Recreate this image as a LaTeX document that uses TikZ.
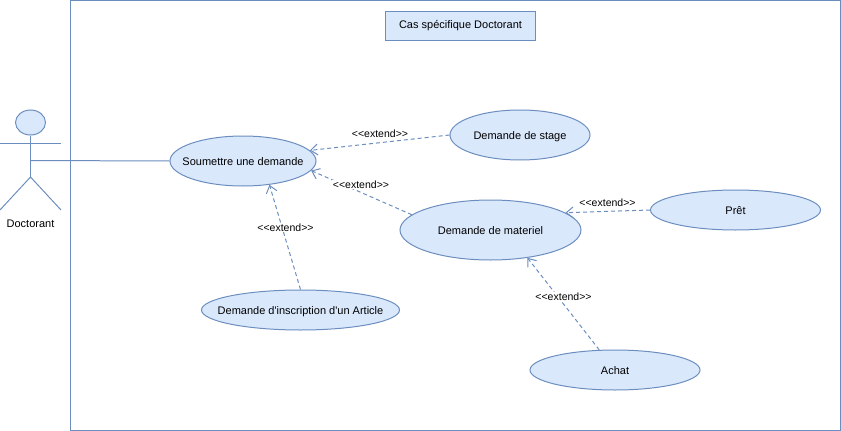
\documentclass[tikz,border=0pt]{standalone}
\usepackage{fontspec}
\setmainfont{Liberation Sans}
\usetikzlibrary{shapes.geometric,arrows.meta}

\tikzset{
    usecase/.style={ellipse,draw=edgeblue,fill=fillblue,line width=1pt,inner xsep=-25pt,inner ysep=-4pt,text height=9.5pt,text depth=0pt,font=\fontsize{11}{13}\selectfont},
    extendline/.style={draw=edgeblue,line width=1pt,dashed,dash pattern=on 4pt off 3pt,-{Straight Barb[length=7pt,width=11pt]}},
    extendlabel/.style={fill=white,inner sep=0.5pt,font=\fontsize{10.5}{12}\selectfont},
    solidline/.style={draw=edgeblue,line width=1pt}
}
\definecolor{edgeblue}{HTML}{6C8EBF}
\definecolor{fillblue}{HTML}{DAE8FC}
\newcommand{\extendtext}{<{}<extend>{}>}

\begin{document}
\begin{tikzpicture}[x=1pt,y=-1pt]
        \useasboundingbox (0,0) rectangle (841,431);

        % Cadre du systeme
        \node[solidline,draw,minimum width=770pt,minimum height=430pt,inner sep=0pt] (systeme) at (455,215) {};
        \node[solidline,draw,fill=fillblue,minimum width=150pt,minimum height=29pt,inner sep=0pt,font=\fontsize{11}{13}\selectfont] (titre) at (460.5,25.5) {Cas spécifique Doctorant};

        % Cas d'utilisation
        \foreach \nom/\x/\y/\w/\h/\texte in {
            soumettre/243/161/146/50/Soumettre une demande,
            stage/520/135/140/50/Demande de stage,
            materiel/490.5/230/181/60/Demande de materiel,
            pret/735.5/210/170/40/Prêt,
            article/300.5/310/198/40/Demande d\textquotesingle inscription d\textquotesingle un Article,
            achat/615/370/170/40/Achat}
        {
            \node[usecase,minimum width=\w pt,minimum height=\h pt] (\nom) at (\x,\y) {\texte};
        }

        % Acteur
        \node[ellipse,draw=edgeblue,fill=fillblue,line width=1pt,minimum width=30pt,minimum height=25pt,inner sep=0pt] (tete) at (30.5,122.5) {};
        \coordinate (brasg) at (0,143);
        \coordinate (brasd) at (61,143);
        \coordinate (taille) at (30.5,160.5);
        \coordinate (bassin) at (30.5,177);
        \coordinate (piedg) at (0,210);
        \coordinate (piedd) at (61,210);
        \draw[solidline] (tete.south) -- (bassin);
        \draw[solidline] (brasg) -- (brasd);
        \draw[solidline] (piedg) -- (bassin) -- (piedd);
        \node[font=\fontsize{11}{13}\selectfont,inner sep=0pt] (doctorant) at (30.5,223.5) {Doctorant};
        \draw[solidline] (taille) -- (soumettre.west);

        % Liens extend
        \draw[extendline] (stage.west) -- (soumettre.9);
        \draw[extendline] (materiel.169) -- (soumettre.-8);
        \draw[extendline] (article.north) -- (soumettre.-42);
        \draw[extendline] (pret.west) -- (materiel.13);
        \draw[extendline] (achat.128) -- (materiel.-37);

        \node[extendlabel,fill=none] (lstage) at (380,133.5) {\extendtext};
        \node[extendlabel] (lmateriel) at (361,184.5) {\extendtext};
        \node[extendlabel] (larticle) at (285.5,227.5) {\extendtext};
        \node[extendlabel,fill=none] (lpret) at (607.5,202.5) {\extendtext};
        \node[extendlabel] (lachat) at (563.5,296.5) {\extendtext};
\end{tikzpicture}
\end{document}
